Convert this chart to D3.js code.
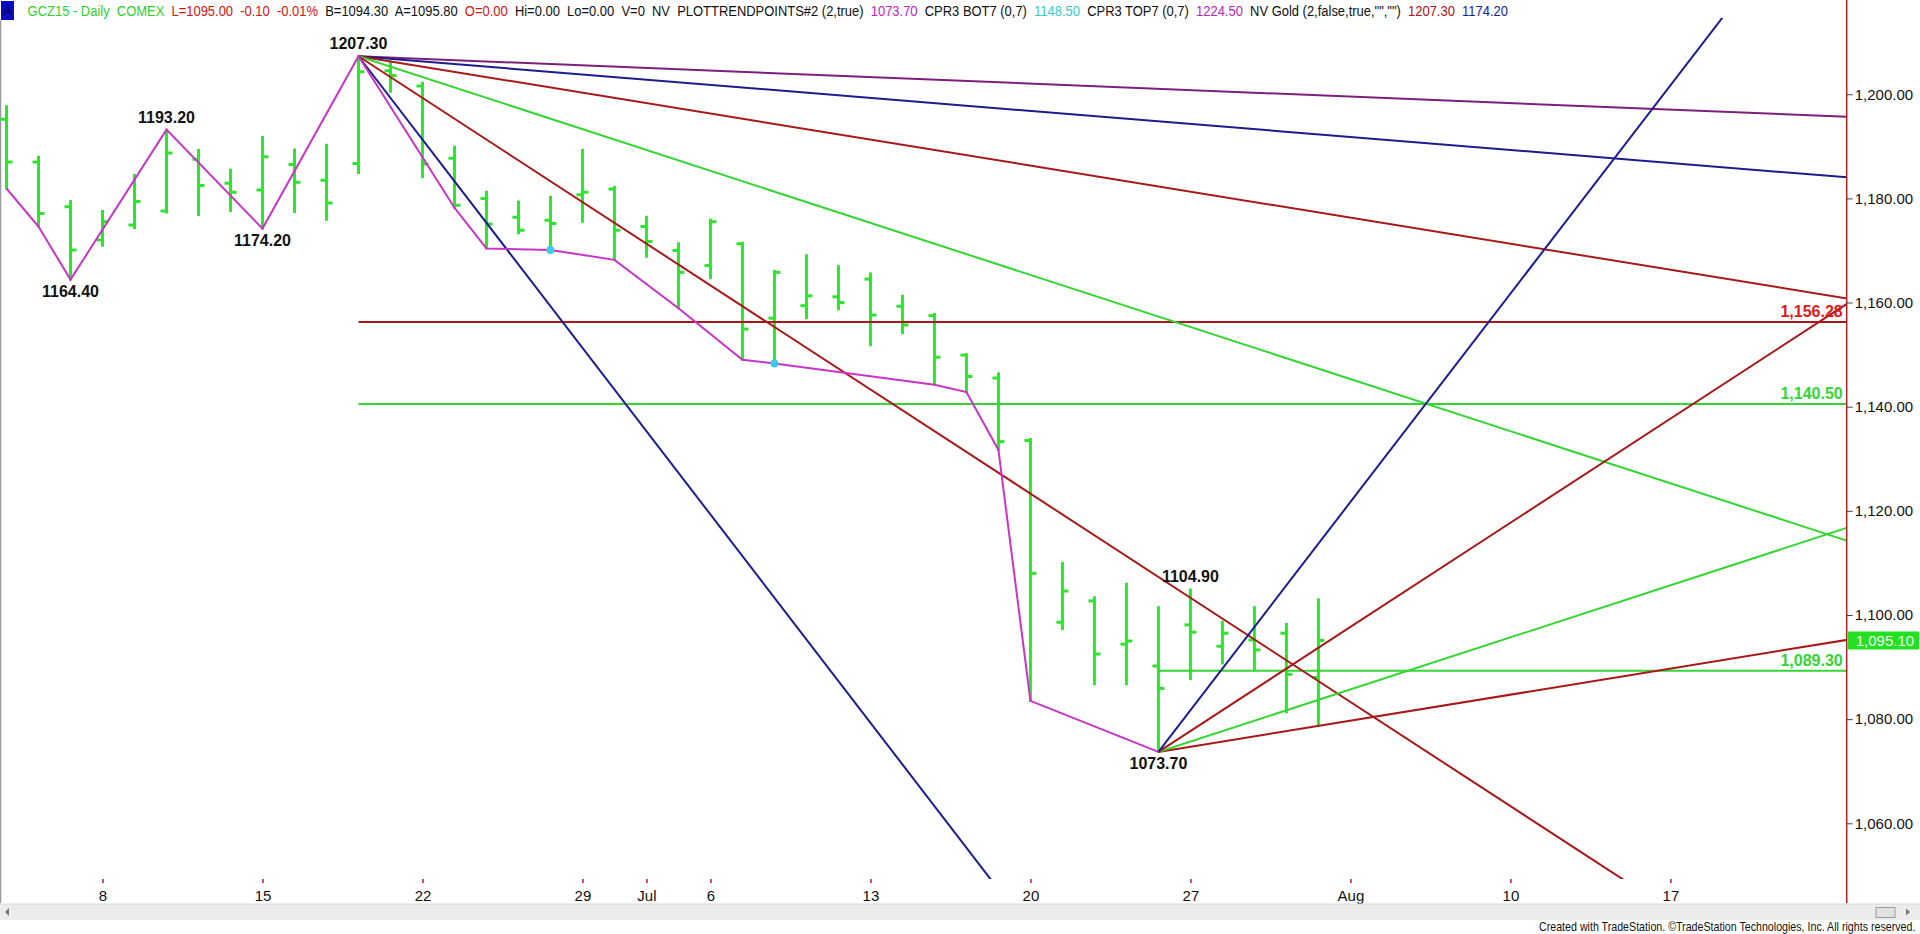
<!DOCTYPE html>
<html><head><meta charset="utf-8">
<script src="https://cdn.jsdelivr.net/npm/d3@7"></script>
<style>
html,body{margin:0;padding:0;background:#fff;overflow:hidden}
svg{display:block}
text{font-family:"Liberation Sans",Arial,sans-serif}
</style></head><body>
<svg id="chart" width="1920" height="934"></svg>
<script>
// ---------------- DATA ----------------
const dates = ["2015-06-03","2015-06-04","2015-06-05","2015-06-08","2015-06-09","2015-06-10","2015-06-11","2015-06-12",
 "2015-06-15","2015-06-16","2015-06-17","2015-06-18","2015-06-19","2015-06-22","2015-06-23","2015-06-24","2015-06-25","2015-06-26",
 "2015-06-29","2015-06-30","2015-07-01","2015-07-02","2015-07-06","2015-07-07","2015-07-08","2015-07-09","2015-07-10",
 "2015-07-13","2015-07-14","2015-07-15","2015-07-16","2015-07-17","2015-07-20","2015-07-21","2015-07-22","2015-07-23","2015-07-24",
 "2015-07-27","2015-07-28","2015-07-29","2015-07-30","2015-07-31"];
const futureDates = ["2015-08-03","2015-08-04","2015-08-05","2015-08-06","2015-08-07","2015-08-10","2015-08-11","2015-08-12",
 "2015-08-13","2015-08-14","2015-08-17","2015-08-18","2015-08-19","2015-08-20","2015-08-21","2015-08-24","2015-08-25","2015-08-26"];
const opens  = [1195.2,1187.0,1178.4,1172.0,1174.9,1177.6,1187.5,1182.9,1181.6,1186.5,1183.5,1186.7,1204.5,1201.6,1187.7,1180.0,1176.4,1175.8,
 1180.7,1181.8,1174.6,1170.0,1167.1,1171.3,1157.0,1159.4,1161.1,1164.5,1159.3,1157.5,1149.9,1145.5,1133.5,1098.6,1102.7,1094.4,1090.2,
 1098.1,1094.0,1095.2,1096.5,1088.0];
const highs  = [1197.7,1188.0,1179.5,1177.6,1184.5,1193.2,1189.3,1185.5,1191.8,1189.4,1190.3,1207.3,1206.3,1202.2,1189.9,1181.3,1179.4,1180.3,
 1189.3,1182.2,1176.5,1171.4,1175.9,1171.5,1166.1,1169.1,1167.0,1165.6,1161.3,1157.8,1150.1,1146.4,1133.8,1110.0,1103.4,1106.0,1101.5,
 1104.9,1098.7,1101.5,1098.3,1103.0];
const lows   = [1181.9,1174.6,1164.4,1170.9,1174.3,1177.3,1176.8,1177.6,1174.2,1177.4,1175.9,1184.9,1200.5,1184.1,1178.2,1170.4,1173.3,1170.1,
 1175.5,1168.2,1168.8,1158.9,1164.7,1149.0,1148.3,1157.0,1158.7,1151.8,1154.1,1144.2,1142.8,1131.7,1083.5,1097.3,1086.7,1086.7,1073.7,
 1087.7,1090.7,1089.4,1081.3,1078.9];
const closes = [1187.0,1177.1,1170.1,1175.5,1179.4,1188.7,1182.5,1181.2,1188.0,1183.1,1179.1,1204.3,1203.6,1186.6,1178.7,1175.1,1173.9,1175.2,
 1181.2,1173.9,1171.7,1165.8,1175.5,1154.9,1165.8,1161.3,1160.0,1157.6,1155.7,1149.5,1145.8,1133.3,1108.0,1104.6,1092.5,1095.0,1085.9,
 1096.7,1096.5,1093.3,1088.6,1095.1];

// x-axis ticks
const tickDates  = ["2015-06-08","2015-06-15","2015-06-22","2015-06-29","2015-07-01","2015-07-06","2015-07-13","2015-07-20","2015-07-27","2015-08-03","2015-08-10","2015-08-17"];
const tickLabels = ["8","15","22","29","Jul","6","13","20","27","Aug","10","17"];
// y-axis ticks
const yTicks = [1060,1080,1100,1120,1140,1160,1180,1200];

// PLOTTRENDPOINTS swing line
const trendDates  = ["2015-06-03","2015-06-04","2015-06-05","2015-06-10","2015-06-15","2015-06-18","2015-06-23","2015-06-24","2015-06-26",
 "2015-06-30","2015-07-02","2015-07-07","2015-07-08","2015-07-15","2015-07-16","2015-07-17","2015-07-20","2015-07-24"];
const trendValues = [1181.9,1174.6,1164.4,1193.2,1174.2,1207.3,1178.2,1170.4,1170.1,1168.2,1158.9,1149.0,1148.3,1144.2,1142.8,1131.7,1083.5,1073.7];
const dotDates = ["2015-06-26","2015-07-08"];

// Swing labels
const swingDates  = ["2015-06-05","2015-06-10","2015-06-15","2015-06-18","2015-07-27","2015-07-24"];
const swingValues = [1164.40,1193.20,1174.20,1207.30,1104.90,1073.70];
const swingSide   = ["below","above","below","above","above","below"];

// Gann fan angles (dollars per bar)
const fanHighDate = "2015-06-18", fanHighValue = 1207.3;
const fanHighRates = [-0.25,-0.5,-1,-2,-4,-8];
const fanLowDate = "2015-07-24", fanLowValue = 1073.7;
const fanLowRates = [1,2,4,8];

// Horizontal levels
const levelValues = [1156.28,1140.50,1089.30];
const levelStarts = ["2015-06-18","2015-06-18","2015-07-24"];

// Header status line
const headerTexts = ["GCZ15 - Daily  COMEX  ","L=1095.00  -0.10  -0.01%  ","B=1094.30  A=1095.80  ","O=0.00  ",
 "Hi=0.00  Lo=0.00  V=0  NV  PLOTTRENDPOINTS#2 (2,true)  ","1073.70  ","CPR3 BOT7 (0,7)  ","1148.50  ",
 "CPR3 TOP7 (0,7)  ","1224.50  ","NV Gold (2,false,true,\"\",\"\")  ","1207.30  ","1174.20"];

// ---------------- DRAW ----------------
const svg = d3.select("#chart");
const slots = dates.concat(futureDates);
const idx = d => slots.indexOf(d);
const AX = 1846.7, PB = 879, PT = 18;

const x = d3.scaleLinear().domain([-0.2031, 57.51]).range([0, AX]);
const y = d3.scaleLinear().domain([1049.3, 1218.1]).range([PB, 0]);

const fanHighColors = ["#7d1f7d","#1c1c8e","#a81818","#33d633","#a81818","#1c1c8e"];
const fanLowColors  = ["#a81818","#33d633","#a81818","#1c1c8e"];
const levelColors = ["#a81818","#33d633","#33d633"];
const levelTextColors = ["#dd1a1a","#33d633","#33d633"];
const headerColors = ["#2ed02e","#d41414","#111","#d41414","#111","#c820c8","#111","#3cc8c8","#111","#b828b8","#111","#b01010","#1a1a9a"];

svg.append("defs").append("clipPath").attr("id","plotclip")
  .append("rect").attr("x",0).attr("y",PT).attr("width",AX).attr("height",PB-PT);

// frame left
svg.append("line").attr("x1",0.5).attr("x2",0.5).attr("y1",20).attr("y2",903).attr("stroke","#999").attr("stroke-width",1.5);

const plot = svg.append("g").attr("clip-path","url(#plotclip)");

// bars
const bars = plot.append("g").attr("stroke","#2ee52e").attr("stroke-width",3);
dates.forEach((d,i)=>{
  const cx = x(i);
  bars.append("line").attr("x1",cx).attr("x2",cx).attr("y1",y(highs[i])-1).attr("y2",y(lows[i])+1);
  bars.append("line").attr("x1",cx-6).attr("x2",cx).attr("y1",y(opens[i])).attr("y2",y(opens[i]));
  bars.append("line").attr("x1",cx).attr("x2",cx+6).attr("y1",y(closes[i])).attr("y2",y(closes[i]));
});

// horizontal levels
levelValues.forEach((v,k)=>{
  plot.append("line").attr("x1",x(idx(levelStarts[k]))).attr("x2",AX).attr("y1",y(v)).attr("y2",y(v))
    .attr("stroke",levelColors[k]).attr("stroke-width",2);
});

// fans
const endIdx = x.domain()[1]+0.5;
function fan(date,val,rates,colors){
  const i0 = idx(date);
  rates.forEach((r,k)=>{
    plot.append("line").attr("x1",x(i0)).attr("y1",y(val))
      .attr("x2",x(endIdx)).attr("y2",y(val + r*(endIdx-i0)))
      .attr("stroke",colors[k]).attr("stroke-width",2);
  });
}
fan(fanHighDate,fanHighValue,fanHighRates,fanHighColors);
fan(fanLowDate,fanLowValue,fanLowRates,fanLowColors);

// swing line
const pts = trendDates.map((d,k)=>[idx(d),trendValues[k]]);
plot.append("path").attr("d",d3.line().x(p=>x(p[0])).y(p=>y(p[1]))(pts))
  .attr("fill","none").attr("stroke","#c833c8").attr("stroke-width",2);
dotDates.forEach(d=>{
  const i = idx(d);
  plot.append("circle").attr("cx",x(i)).attr("cy",y(lows[i])).attr("r",4).attr("fill","#40c8f0");
});

// swing labels
swingDates.forEach((d,k)=>{
  const i = idx(d);
  svg.append("text").attr("x",x(i)).attr("y", swingSide[k]==="above" ? y(swingValues[k])-7 : y(swingValues[k])+17)
    .attr("text-anchor","middle").attr("font-size",16).attr("font-weight","bold").attr("fill","#111")
    .text(swingValues[k].toFixed(2));
});

// level labels
levelValues.forEach((v,k)=>{
  svg.append("text").attr("x",AX-4).attr("y",y(v)-5).attr("text-anchor","end")
    .attr("font-size",16).attr("font-weight","bold").attr("fill",levelTextColors[k])
    .text(d3.format(",.2f")(v));
});

// right axis
svg.append("line").attr("x1",AX).attr("x2",AX).attr("y1",0).attr("y2",903).attr("stroke","#b22222").attr("stroke-width",1.5);
const yAxis = svg.append("g").attr("transform",`translate(${AX},0)`)
  .call(d3.axisRight(y).tickValues(yTicks).tickFormat(d3.format(",.2f")).tickSize(6).tickPadding(2));
yAxis.select(".domain").remove();
yAxis.selectAll("line").attr("stroke","#444");
yAxis.selectAll("text").attr("font-size",15).attr("fill","#111").attr("font-family","Liberation Sans, Arial, sans-serif");

// last price box
const lastY = y(closes[closes.length-1]);
svg.append("rect").attr("x",AX+1).attr("y",lastY-9).attr("width",1920-AX-2).attr("height",18).attr("fill","#22e022");
svg.append("text").attr("x",AX+9).attr("y",lastY+5).attr("font-size",15).attr("fill","#f4fff4")
  .text(d3.format(",.2f")(closes[closes.length-1]));

// bottom axis
const xAxis = svg.append("g").attr("transform",`translate(0,${PB})`)
  .call(d3.axisBottom(x).tickValues(tickDates.map(idx)).tickFormat((d,i)=>tickLabels[i]).tickSize(4).tickPadding(7));
xAxis.select(".domain").remove();
xAxis.selectAll("line").attr("stroke","#b22222").attr("stroke-width",1.5);
xAxis.selectAll("text").attr("font-size",15).attr("fill","#111").attr("font-family","Liberation Sans, Arial, sans-serif");

// header
svg.append("rect").attr("x",1).attr("y",1).attr("width",13).attr("height",19).attr("fill","#0a0ac0");
svg.append("text").attr("x",7.5).attr("y",15).attr("text-anchor","middle").attr("font-size",12).attr("fill","#000050").text("A");
const head = svg.append("text").attr("x",0).attr("y",16).attr("font-size",15).style("white-space","pre");
headerTexts.forEach((t,k)=> head.append("tspan").attr("fill",headerColors[k]).text(t));
const hw = head.node().getComputedTextLength();
head.attr("transform",`translate(27.6,0) scale(${(1510-27.6)/hw},1)`);

// scrollbar
svg.append("rect").attr("x",0).attr("y",904).attr("width",1920).attr("height",16).attr("fill","#ececec");
svg.append("line").attr("x1",0).attr("x2",1920).attr("y1",904).attr("y2",904).attr("stroke","#dcdcdc");
svg.append("path").attr("d","M9,908 L5,912 L9,916 Z").attr("fill","#777");
svg.append("rect").attr("x",1876).attr("y",907.5).attr("width",19).attr("height",10).attr("fill","#e2e2e2").attr("stroke","#9a9a9a");
svg.append("path").attr("d","M1906,908.5 L1910,912 L1906,915.5 Z").attr("fill","#777");

// footer
const foot = svg.append("text").attr("x",0).attr("y",931).attr("font-size",13).attr("fill","#111")
  .text("Created with TradeStation. \u00A9TradeStation Technologies, Inc. All rights reserved.");
const fw = foot.node().getComputedTextLength();
foot.attr("transform",`translate(1539,0) scale(${377/fw},1)`);
</script>
</body></html>
